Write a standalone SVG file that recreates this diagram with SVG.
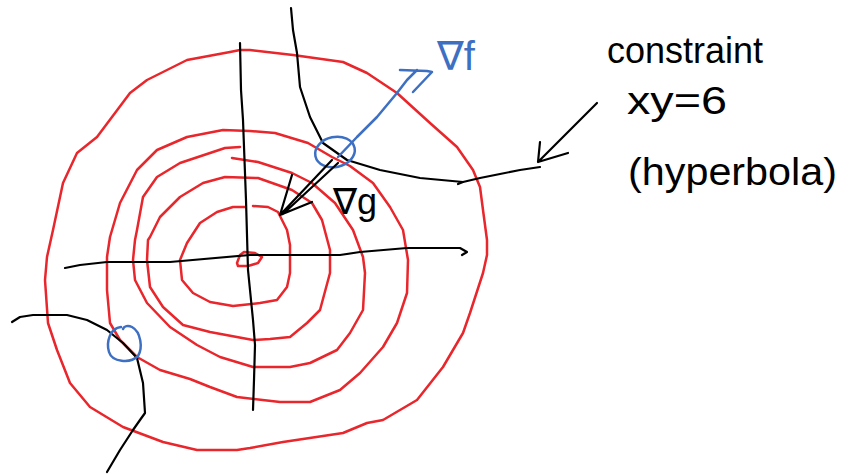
<svg xmlns="http://www.w3.org/2000/svg" width="849" height="475" viewBox="0 0 849 475">
<style>
.red{fill:none;stroke:#e8262b;stroke-width:2.5;stroke-linejoin:round;stroke-linecap:round}
.blk{fill:none;stroke:#000;stroke-width:2.2;stroke-linejoin:round;stroke-linecap:round}
.blu{fill:none;stroke:#3d6fc2;stroke-width:2.5;stroke-linejoin:round;stroke-linecap:round}
.t{font-family:"Liberation Sans","DejaVu Sans",sans-serif}
</style>
<rect width="849" height="475" fill="#fff"/>
<g id="contours">
<path class="red" d="M240,50 L250,50 L293,55 L343,62 L367,73 L397,93 L430,123 L457,147 L473,170 L480,187 L483,210 L487,240 L487,255 L483,273 L470,313 L463,333 L443,367 L417,400 L383,420 L367,423 L343,433 L283,442 L250,448 L237,450 L197,450 L163,442 L123,427 L90,407 L70,383 L57,350 L48,323 L45,280 L47,257 L53,230 L63,183 L77,153 L97,137 L130,93 L147,80 L187,60 L230,52 Z"/>
<path class="red" d="M223,130 L250,131 L275,133 L308,143 L332,157 L350,166 L373,183 L390,207 L403,230 L408,260 L407,293 L397,323 L383,347 L360,373 L340,390 L310,402 L280,402 L237,397 L210,387 L190,379 L160,370 L137,357 L120,340 L110,323 L107,290 L107,257 L110,237 L120,203 L137,170 L157,150 L187,137 Z"/>
<path class="red" d="M232,158 L258,162 L292,173 L312,183 L335,203 L353,230 L363,257 L365,273 L363,310 L350,333 L337,350 L310,363 L290,367 L253,367 L220,357 L197,345 L170,327 L147,303 L135,280 L133,260 L135,240 L137,230 L143,197 L157,177 L180,163 L213,152 L225,148 L240,147"/>
<path class="red" d="M225,177 L258,178 L292,190 L312,203 L322,220 L330,250 L330,273 L320,310 L307,323 L290,337 L270,339 L253,340 L210,332 L183,325 L163,307 L150,287 L147,260 L148,240 L150,237 L160,217 L180,197 L203,183 Z"/>
<path class="red" d="M253,206 L268,207 L278,212 L287,230 L290,245 L290,273 L287,287 L277,300 L260,303 L233,306 L210,302 L193,293 L182,280 L180,260 L187,243 L200,223 L217,212 L233,207 L245,207"/>
<path class="red" d="M244,252 L255,253 L262,257 L258,263 L248,266 L238,266 L237,263 L240,255 Z"/>
</g>
<g id="axes">
<path class="blk" d="M240,43 L241,90 L243,120 L246,200 L248,270 L253,320 L255,345 L254,380 L253,410"/>
<path class="blk" d="M65,268 L80,265 L107,262 L170,262 L250,255 L340,255 L360,252 L407,248 L460,248 L467,252 L462,255"/>
</g>
<g id="constraint">
<path class="blk" d="M291,8 L293,30 L297,53 L300,87 L310,117 L323,143 L347,160 L380,170 L420,178 L463,182 L458,184"/>
<path class="blk" d="M463,182 L480,178 L500,174 L520,170 L540,167"/>
<path class="blk" d="M12,322 L20,317 L33,315 L67,315 L87,320 L107,330 L123,343 L137,358 L143,383 L145,413 L140,420 L133,430 L120,450 L107,472"/>
<path class="blk" d="M597,103 L538,162 M540,142 L538,162 L568,153"/>
</g>
<g id="gradients">
<ellipse class="blu" cx="335" cy="152" rx="20" ry="15" transform="rotate(-12 335 152)"/>
<path class="blu" d="M121,327 C110,328 106,342 109,352 C112,362 130,364 138,356 C143,348 141,332 132,327 C128,325 124,326 123,329"/>
<path class="blu" d="M338,157 L357,137 L377,117 L397,93 L407,80 L417,70 M400,70 L427,71 L432,72 L413,92"/>
<path class="blk" d="M332,160 L280,215 M338,163 L283,214 M292,175 L280,215 L312,202"/>
</g>
<g id="labels">
<text class="t" x="437" y="70" font-size="40" fill="#3d6fc2">∇f</text>
<text class="t" x="333" y="214" font-size="36" fill="#000">∇g</text>
<text class="t" x="607" y="63" font-size="37" textLength="156" lengthAdjust="spacingAndGlyphs">constraint</text>
<text class="t" x="627" y="114" font-size="38" textLength="100" lengthAdjust="spacingAndGlyphs">xy=6</text>
<text class="t" x="628" y="185" font-size="38" textLength="209" lengthAdjust="spacingAndGlyphs">(hyperbola)</text>
</g>
</svg>
